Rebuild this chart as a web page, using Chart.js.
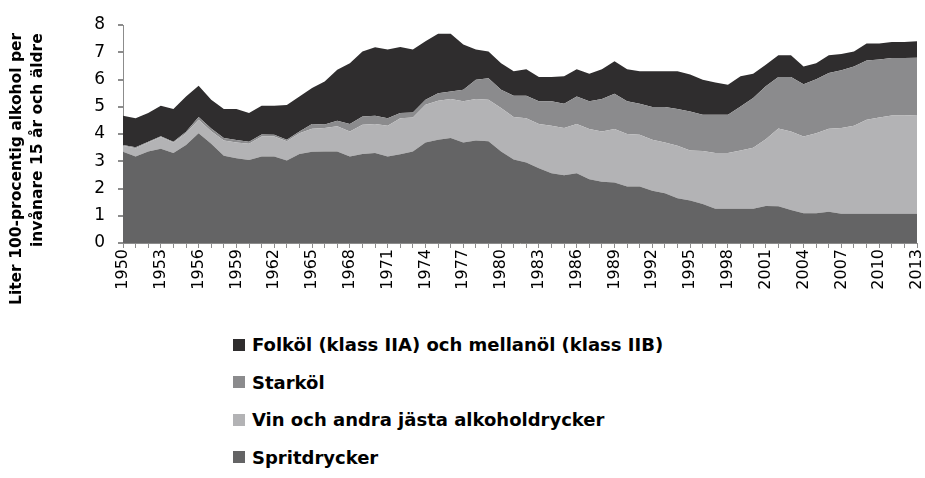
<!DOCTYPE html>
<html lang="sv">
<head>
  <meta charset="UTF-8">
  <title>Alkoholkonsumtion 1950-2013</title>
  <script src="https://cdn.jsdelivr.net/npm/chart.js@4.4.1/dist/chart.umd.min.js"></script>
  <style>
    body {
      margin: 0;
      background: #fff;
      font-family: 'DejaVu Sans', Verdana, sans-serif;
    }
    #wrap { position: relative; width: 925px; height: 478px; overflow: hidden; }
    #chart-box { position: absolute; left: 0; top: 0; width: 925px; height: 300px; }
    /* y axis title, read bottom to top, lines aligned at the top */
    #ytitle {
      position: absolute; left: 6px; top: 33px; height: 400px;
      writing-mode: vertical-rl; transform: rotate(180deg);
      text-align: end; font-weight: bold; font-size: 15.5px; line-height: 21px;
      color: #000; white-space: nowrap;
    }
    #legend {
      position: absolute; left: 233px; top: 326px;
      list-style: none; margin: 0; padding: 0;
    }
    #legend li {
      height: 37.5px; display: flex; align-items: center;
      font-weight: bold; font-size: 18px; color: #000; white-space: nowrap;
    }
    #legend span.box {
      display: inline-block; width: 12px; height: 12px; margin-right: 7px;
    }
  </style>
</head>
<body>
<div id="wrap">
  <div id="chart-box"><canvas id="myChart"></canvas></div>
  <div id="ytitle">Liter 100-procentig alkohol per<br>invånare 15 år och äldre</div>
  <ul id="legend"></ul>
</div>
<script>
  // years 1950..2013
  const years = Array.from({ length: 64 }, (_, i) => String(1950 + i));

  // liter 100% alkohol per invånare 15+
  const sprit = [3.35, 3.17, 3.36, 3.46, 3.30, 3.60, 4.03, 3.64, 3.20, 3.11,
    3.05, 3.17, 3.17, 3.03, 3.27, 3.35, 3.36, 3.36, 3.17, 3.27,
    3.30, 3.17, 3.26, 3.36, 3.69, 3.79, 3.85, 3.69, 3.76, 3.73,
    3.36, 3.06, 2.95, 2.74, 2.56, 2.49, 2.56, 2.34, 2.25, 2.22,
    2.07, 2.07, 1.92, 1.83, 1.64, 1.56, 1.43, 1.26, 1.26, 1.26,
    1.26, 1.36, 1.35, 1.21, 1.09, 1.09, 1.15, 1.07, 1.07, 1.07,
    1.07, 1.07, 1.07, 1.07];
  const vin = [0.22, 0.31, 0.33, 0.43, 0.39, 0.43, 0.49, 0.46, 0.56, 0.58,
    0.59, 0.74, 0.74, 0.70, 0.76, 0.84, 0.86, 0.92, 0.92, 1.07,
    1.07, 1.13, 1.32, 1.25, 1.38, 1.43, 1.43, 1.51, 1.52, 1.53,
    1.59, 1.56, 1.63, 1.63, 1.74, 1.73, 1.81, 1.84, 1.84, 1.96,
    1.93, 1.90, 1.87, 1.86, 1.93, 1.83, 1.95, 2.04, 2.04, 2.13,
    2.24, 2.45, 2.85, 2.88, 2.82, 2.94, 3.04, 3.15, 3.23, 3.45,
    3.54, 3.61, 3.61, 3.63];
  const starkol = [0.03, 0.03, 0.03, 0.03, 0.03, 0.05, 0.10, 0.10, 0.09, 0.09,
    0.08, 0.07, 0.06, 0.06, 0.06, 0.18, 0.13, 0.21, 0.28, 0.30,
    0.30, 0.28, 0.19, 0.18, 0.19, 0.28, 0.28, 0.42, 0.71, 0.79,
    0.67, 0.78, 0.82, 0.83, 0.90, 0.89, 1.01, 1.02, 1.19, 1.30,
    1.20, 1.14, 1.20, 1.30, 1.35, 1.44, 1.33, 1.41, 1.41, 1.62,
    1.82, 1.94, 1.89, 2.00, 1.92, 1.98, 2.05, 2.12, 2.18, 2.18,
    2.12, 2.11, 2.11, 2.10];
  const folkol = [1.07, 1.07, 1.05, 1.12, 1.20, 1.30, 1.15, 1.06, 1.07, 1.14,
    1.05, 1.06, 1.07, 1.27, 1.29, 1.32, 1.58, 1.87, 2.23, 2.39,
    2.51, 2.52, 2.42, 2.31, 2.14, 2.18, 2.12, 1.66, 1.11, 0.98,
    0.98, 0.90, 0.98, 0.89, 0.89, 1.01, 1.00, 1.01, 1.10, 1.19,
    1.18, 1.19, 1.31, 1.31, 1.38, 1.35, 1.28, 1.18, 1.10, 1.11,
    0.89, 0.79, 0.80, 0.80, 0.65, 0.59, 0.65, 0.60, 0.55, 0.62,
    0.59, 0.59, 0.59, 0.60];

  const seriesLabels = [
    'Spritdrycker',
    'Vin och andra jästa alkoholdrycker',
    'Starköl',
    'Folköl (klass IIA) och mellanöl (klass IIB)'
  ];
  const seriesColors = ['#646465', '#b3b3b5', '#8b8b8d', '#2f2d2e'];
  const seriesData = [sprit, vin, starkol, folkol];

  const datasets = seriesData.map((d, i) => ({
    label: seriesLabels[i],
    data: d,
    backgroundColor: seriesColors[i],
    borderColor: seriesColors[i],
    borderWidth: 0,
    pointRadius: 0,
    tension: 0,
    fill: i === 0 ? 'origin' : '-1'
  }));

  const ctx = document.getElementById('myChart').getContext('2d');
  const chart = new Chart(ctx, {
    type: 'line',
    data: { labels: years, datasets: datasets },
    options: {
      responsive: true,
      maintainAspectRatio: false,
      animation: false,
      layout: { padding: { top: 25, right: 8, left: 0, bottom: 0 } },
      plugins: {
        legend: { display: false },
        tooltip: { enabled: false }
      },
      scales: {
        x: {
          offset: false,
          grid: {
            drawOnChartArea: false,
            drawTicks: true,
            tickLength: 5,
            color: '#8c8c8c'
          },
          border: { color: '#8c8c8c', width: 1 },
          ticks: {
            autoSkip: false,
            minRotation: 90,
            maxRotation: 90,
            padding: 1,
            color: '#000',
            font: { family: 'DejaVu Sans', size: 16 },
            callback: function(value, index) {
              return index % 3 === 0 ? years[index] : '';
            }
          },
          afterFit: function(scale) {
            scale.height = 57;
            scale.paddingLeft = 0;
            scale.paddingRight = 0;
          }
        },
        y: {
          stacked: true,
          min: 0,
          max: 8,
          z: 1,
          grid: {
            color: '#ffffff',
            lineWidth: 2,
            tickColor: '#8c8c8c',
            tickLength: 5
          },
          border: { color: '#8c8c8c', width: 1 },
          ticks: {
            stepSize: 1,
            padding: 13,
            color: '#000',
            font: { family: 'DejaVu Sans', size: 17 }
          },
          afterFit: function(scale) {
            scale.width = 123;
            scale.paddingTop = 0;
            scale.paddingBottom = 0;
          }
        }
      }
    }
  });

  // legend below the chart, top series first
  const legendEl = document.getElementById('legend');
  for (let i = seriesLabels.length - 1; i >= 0; i--) {
    const li = document.createElement('li');
    const box = document.createElement('span');
    box.className = 'box';
    box.style.background = seriesColors[i];
    li.appendChild(box);
    li.appendChild(document.createTextNode(seriesLabels[i]));
    legendEl.appendChild(li);
  }
</script>
</body>
</html>
